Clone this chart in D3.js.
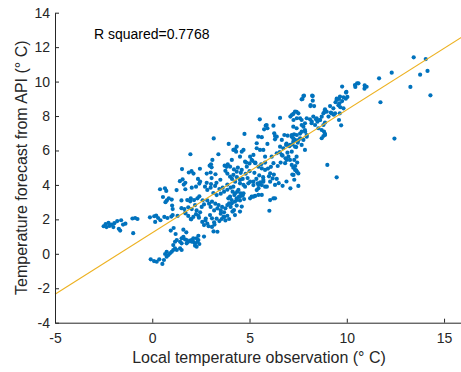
<!DOCTYPE html>
<html><head><meta charset="utf-8">
<script src="https://cdn.jsdelivr.net/npm/d3@7"></script>
<style>
body{margin:0;background:#fff}
text{font-family:"Liberation Sans",Arial,Helvetica,sans-serif}
</style>
</head><body>
<svg id="chart" width="461" height="372"></svg>
<script>
const xTicks = [-5, 0, 5, 10, 15];
const yTicks = [-4, -2, 0, 2, 4, 6, 8, 10, 12, 14];
const xLabel = "Local temperature observation (\u00B0 C)";
const yLabel = "Temperature forecast from API (\u00B0 C)";
const rSquaredLabel = "R squared=0.7768";
const fitSlope = 0.714;
const fitIntercept = 1.22;

// [local observation, API forecast]
const coldCluster = [[-2.5,1.6],[-2.4,1.72],[-2.35,1.55],[-2.25,1.8],[-2.2,1.62],[-2.1,1.7],[-2.0,1.55],[-1.95,1.78],[-1.8,1.9],[-1.72,1.45],[-1.65,1.35],[-1.6,1.95],[-1.5,1.7],[-1.38,1.75],[-1.02,2.05],[-0.88,2.08],[-0.76,2.02],[-0.98,1.2]];
const nearZero = [[-0.12,2.12],[0.1,2.18],[0.2,2.22],[0.3,2.08],[0.15,1.85],[0.62,2.14],[0.78,2.08],[0.98,2.16],[1.05,2.25],[0.42,1.95]];
const lowBlob = [[-0.08,-0.32],[0.09,-0.42],[0.23,-0.46],[0.36,-0.32],[0.52,-0.59],[0.6,-0.36],[0.74,-0.17],[0.83,-0.07],[0.91,0.03],[1.0,0.12],[0.74,0.12],[0.66,-0.01],[1.08,0.22],[1.17,0.32],[1.26,0.22],[1.43,0.32],[1.51,0.22],[1.08,0.51],[1.17,0.7],[1.26,0.8],[1.43,0.7],[1.51,0.9],[1.6,0.99],[1.68,0.84],[1.77,0.8],[1.85,0.7],[1.94,0.76],[2.03,0.8],[2.11,0.7],[2.2,0.61],[2.28,0.9],[2.37,0.8],[2.42,0.57],[2.28,0.41],[1.77,0.61],[1.51,0.61]];
const lowMid = [[0.4,3.75],[0.65,3.8],[0.72,3.65],[1.25,3.7],[1.7,3.75],[0.55,3.3],[0.75,3.1],[0.85,3.22],[1.0,3.15],[0.68,3.0],[1.02,2.8],[1.05,2.6],[1.5,3.1],[1.8,3.12],[1.95,3.05],[1.5,2.65],[1.65,2.6],[1.85,2.7],[1.7,2.35],[1.1,1.5],[1.6,1.4],[1.75,1.25],[1.3,2.2],[0.95,1.35],[1.2,1.15],[1.7,2.4],[1.85,2.2],[2.0,2.0],[2.25,2.3],[2.4,2.1],[2.57,1.85],[2.75,2.05],[2.9,1.6],[3.15,1.3],[3.2,1.7],[3.45,1.9],[3.7,2.15]];
const upperLeft = [[3.16,6.7],[3.93,6.38],[1.96,5.78],[3.4,5.78],[3.09,5.45],[2.95,5.12],[3.02,5.2],[3.05,5.02],[3.72,5.12],[3.82,5.05],[3.88,5.2],[1.53,4.92],[2.45,4.94],[1.88,4.72],[2.02,4.8],[2.12,4.66],[2.8,4.66],[3.0,4.72],[3.25,4.62],[3.76,4.82],[3.86,4.66],[1.42,4.22],[1.56,4.32],[1.7,4.12],[1.62,4.02],[2.35,4.35],[2.42,4.08],[2.46,4.2],[2.8,4.12],[3.02,4.05],[3.3,4.12],[3.05,4.4],[3.5,4.3],[3.86,4.02]];
const midCore = [[2.03,3.84],[2.25,3.9],[2.71,3.9],[2.83,3.71],[3.0,3.84],[3.23,3.94],[3.45,3.76],[3.62,3.84],[3.69,3.61],[3.52,3.49],[3.31,3.41],[3.14,3.53],[3.86,3.72],[4.03,3.84],[4.13,3.61],[4.22,3.41],[4.37,3.61],[4.46,3.32],[4.55,3.51],[4.65,3.38],[4.72,3.18],[4.51,3.1],[4.34,3.22],[4.25,3.03],[4.08,3.12],[3.91,3.22],[1.98,3.22],[2.15,3.12],[2.32,3.22],[2.42,3.34],[2.59,3.11],[2.2,2.83],[2.03,2.6],[2.28,2.52],[2.46,2.41],[2.37,2.21],[2.11,2.14],[1.98,2.02],[2.54,2.72],[2.66,2.87],[2.83,3.1],[2.92,2.91],[3.0,2.72],[3.07,3.03],[3.24,2.91],[3.35,2.64],[3.18,2.52],[3.41,2.83],[3.52,2.52],[3.59,2.72],[3.69,2.41],[3.76,2.64],[3.86,2.83],[3.95,2.93],[4.03,2.72],[4.12,2.45],[4.2,2.54],[3.66,2.14],[3.57,2.02],[3.76,1.94],[3.31,2.04],[2.97,2.25],[3.07,2.06],[3.18,1.83],[2.73,1.94],[2.66,1.67],[2.83,1.75],[3.07,1.56],[3.35,1.28],[3.52,2.33],[3.86,2.21],[3.95,2.02],[2.37,1.05],[2.66,1.0],[2.11,0.9],[2.03,0.7],[2.2,0.47],[2.32,0.7],[4.34,2.8],[4.51,2.45],[4.25,2.25]];
const midRight = [[5.11,3.32],[5.29,3.36],[5.46,3.42],[5.63,3.42],[5.42,4.09],[5.46,3.8],[5.63,3.99],[5.71,4.19],[6.06,3.12],[6.02,2.5],[6.23,3.22],[6.31,3.22],[7.51,3.94],[4.6,2.74],[4.17,2.5],[5.03,4.19],[5.2,3.99],[4.69,3.51],[4.51,3.32],[4.34,3.12],[4.09,2.93],[4.26,3.51],[4.43,3.71],[4.77,3.9],[4.0,3.32],[4.17,3.9],[4.51,4.09],[5.37,3.7],[5.8,3.9],[5.2,3.32],[5.03,3.22]];
const warmBand = [[4.74,6.96],[5.53,7.81],[6.57,7.89],[5.83,7.44],[6.23,7.44],[5.92,7.29],[7.34,8.26],[7.51,8.16],[7.17,8.06],[7.1,7.97],[7.26,7.77],[7.43,7.87],[7.68,7.77],[7.94,7.87],[8.11,7.81],[8.28,7.97],[8.42,7.81],[8.49,7.67],[8.63,7.77],[8.2,7.67],[8.37,7.48],[8.54,7.29],[8.71,7.19],[8.83,7.09],[8.88,6.9],[7.77,7.38],[7.86,7.09],[7.6,6.98],[7.43,6.9],[7.29,6.94],[7.17,6.8],[6.96,6.86],[7.6,6.71],[7.34,6.61],[7.48,6.45],[7.77,6.61],[7.94,6.8],[6.31,6.84],[6.31,6.65],[6.66,6.61],[6.88,6.32],[6.74,6.13],[6.57,6.22],[6.95,5.87],[7.0,5.64],[7.08,5.45],[6.91,5.45],[7.17,5.16],[7.34,4.87],[7.43,4.77],[7.51,4.67],[7.26,4.58],[6.83,5.26],[6.66,5.74],[6.4,5.84],[6.14,5.64],[5.8,5.64],[5.71,6.03],[5.54,6.03],[5.37,6.42],[5.2,5.74],[5.03,5.64],[5.11,5.45],[5.29,5.26],[5.46,5.06],[5.63,4.96],[5.8,4.87],[6.06,4.67],[6.19,4.38],[6.23,5.26],[4.69,6.03],[4.34,6.22],[4.17,6.03],[4.51,5.64],[4.77,5.35],[4.86,5.06],[4.6,4.87],[4.34,4.77],[4.17,4.58],[4.0,4.48],[4.26,4.19],[4.51,4.29],[4.69,4.0],[4.94,4.09],[5.2,4.19],[5.46,4.0],[5.71,4.29],[5.89,3.9],[6.06,4.19],[6.31,4.0],[4.0,5.06],[4.09,5.45]];
const warmExtra = [[5.45,6.8],[5.63,6.77],[6.27,7.0],[6.4,6.8],[5.88,7.48],[5.75,7.23],[5.92,6.38],[5.37,6.13],[4.25,6.07],[4.31,5.93],[4.6,5.93],[6.79,6.9],[7.17,6.9],[7.25,6.7],[7.51,6.6],[6.9,6.4],[7.05,6.25],[7.2,6.35],[7.4,6.2],[6.55,5.9],[6.7,5.7],[6.85,5.55],[6.6,5.3],[6.45,5.1],[4.83,5.3],[5.0,5.25],[5.15,5.4],[5.3,5.3],[5.6,5.2],[5.8,5.3],[5.95,4.95],[6.1,5.05],[4.2,4.9],[4.4,5.0],[4.55,4.7],[4.8,4.65],[5.0,4.8],[5.25,4.7],[5.5,4.55],[5.7,4.45],[6.0,4.5],[6.25,4.6],[6.4,4.35],[4.1,4.35],[4.35,4.45],[4.65,4.35],[4.9,4.4],[5.35,4.35],[5.55,4.15],[6.5,4.1],[6.7,3.95],[6.9,4.2],[7.1,3.8],[7.3,4.3],[7.2,4.6],[7.35,5.1],[7.45,5.3],[7.3,5.45],[7.25,5.0],[7.4,4.85]];
const hotCluster = [[7.8,9.18],[8.22,9.18],[7.72,8.99],[8.25,8.89],[8.13,8.58],[8.32,8.58],[9.48,9.01],[9.6,8.99],[9.83,9.09],[9.95,9.01],[10.03,9.11],[9.42,8.8],[9.76,8.87],[9.57,8.62],[9.67,8.51],[9.83,8.45],[9.31,8.45],[9.14,8.58],[8.88,8.39],[8.85,8.24],[9.18,8.2],[9.06,7.97],[9.33,8.08],[9.64,8.16],[9.6,7.77],[9.71,7.46],[9.76,9.71],[9.98,9.4],[7.77,9.16],[8.25,9.16],[7.68,8.97],[8.14,8.64],[9.96,9.36],[9.65,9.13],[9.48,8.93],[9.62,8.74],[9.22,8.16],[9.4,8.16],[8.97,8.25],[8.8,8.16],[8.71,7.96],[8.62,7.77],[8.45,7.87],[8.19,7.58],[8.8,7.48],[8.88,7.62],[7.42,8.25],[7.25,8.12],[7.6,7.87],[7.85,7.58],[7.68,7.48],[7.42,7.29],[7.25,7.38],[7.68,7.09],[7.85,7.19],[7.94,6.9],[7.85,6.03],[7.68,6.32],[7.08,6.32],[7.25,6.51],[8.88,6.96],[8.8,6.84],[7.34,6.22],[7.17,5.93],[7.42,5.64],[8.71,6.71]];
const outliers = [[13.44,11.41],[14.06,11.31],[12.31,10.52],[11.66,10.19],[13.77,10.4],[14.15,10.62],[13.27,9.69],[14.3,9.2],[11.73,8.8],[12.45,6.69],[9.0,5.16],[9.48,4.44],[10.53,9.9],[10.44,9.69],[10.92,9.78],[10.91,9.59],[11.02,9.7],[10.6,9.9],[10.42,9.8]];

const samples = [].concat(coldCluster, nearZero, lowBlob, lowMid, upperLeft, midCore, midRight, warmBand, warmExtra, hotCluster, outliers);

const svg = d3.select("#chart");
const x = d3.scaleLinear().domain([-5, 16]).range([55, 463.5]);
const y = d3.scaleLinear().domain([-4, 14]).range([322.7, 12.7]);
const axisColor = "#262626";

// points
svg.append("g").selectAll("circle").data(samples).join("circle")
  .attr("cx", d => x(d[0])).attr("cy", d => y(d[1]))
  .attr("r", 2.1).attr("fill", "#0072BD");

// fit line
const fitX = x.domain();
svg.append("line")
  .attr("x1", x(fitX[0])).attr("y1", y(fitIntercept + fitSlope * fitX[0]))
  .attr("x2", x(fitX[1])).attr("y2", y(fitIntercept + fitSlope * fitX[1]))
  .attr("stroke", "#EDB120").attr("stroke-width", 1.1);

// axes
const gx = svg.append("g").attr("transform", `translate(0,${y(-4)})`)
  .call(d3.axisBottom(x).tickValues(xTicks).tickFormat(d => String(d))
    .tickSizeInner(-4).tickSizeOuter(0).tickPadding(10.4));
const gy = svg.append("g").attr("transform", `translate(${x(-5)},0)`)
  .call(d3.axisLeft(y).tickValues(yTicks).tickFormat(d => String(d))
    .tickSizeInner(-4).tickSizeOuter(0).tickPadding(5));
[gx, gy].forEach(g => {
  g.select(".domain").attr("stroke", axisColor).attr("stroke-width", 1);
  g.selectAll(".tick line").attr("stroke", axisColor).attr("stroke-width", 1);
  g.selectAll(".tick text").attr("fill", axisColor)
    .style("font-size", "14px").style("font-family", '"Liberation Sans", Arial, sans-serif');
});

// titles
svg.append("text").attr("x", 259).attr("y", 363).attr("text-anchor", "middle")
  .attr("fill", axisColor).style("font-size", "16px").text(xLabel);
svg.append("text").attr("transform", `translate(27,${(y(-4) + y(14)) / 2}) rotate(-90)`)
  .attr("text-anchor", "middle").attr("fill", axisColor).style("font-size", "16px").text(yLabel);

svg.append("text").attr("x", x(-3)).attr("y", y(12.45))
  .attr("fill", "#000").style("font-size", "14px").text(rSquaredLabel);
</script>
</body></html>
